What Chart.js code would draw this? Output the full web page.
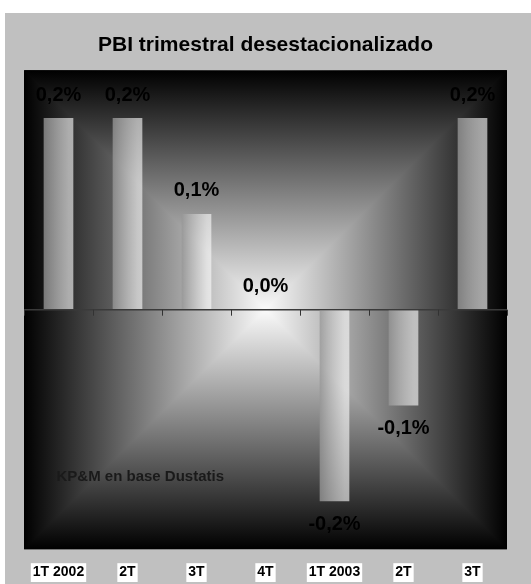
<!DOCTYPE html>
<html>
<head>
<meta charset="utf-8">
<script src="https://cdn.jsdelivr.net/npm/chart.js@4/dist/chart.umd.min.js"></script>
<style>
  html, body { margin: 0; background: #fff; overflow: hidden; }
  #panel { position: absolute; left: 5px; top: 13px; width: 526px; height: 588px; background: #c0c0c0; }
</style>
</head>
<body>
<div id="panel"><canvas id="grafico"></canvas></div>
<script>
const trimestres = ["1T 2002", "2T", "3T", "4T", "1T 2003", "2T", "3T"];
const variacion = [0.2, 0.2, 0.1, 0.0, -0.2, -0.1, 0.2];
const ejeMin = -0.25;
const ejeMax = 0.25;
const fuente = "KP&M en base Dustatis";

const ARIAL = "'Liberation Sans', Arial, sans-serif";
const anchoBarra = 0.43;

// fondo degradado "desde el centro": negro en los bordes, blanco en el medio
const fondo = {
    id: "fondo",
    beforeDraw(chart) {
        const { ctx, chartArea: a } = chart;
        const cx = (a.left + a.right) / 2;
        const cy = (a.top + a.bottom) / 2;
        ctx.save();
        // izquierda / derecha: rectangulo completo
        const gh = ctx.createLinearGradient(a.left, 0, a.right, 0);
        gh.addColorStop(0, "#000");
        gh.addColorStop(0.5, "#fafafa");
        gh.addColorStop(1, "#000");
        ctx.fillStyle = gh;
        ctx.fillRect(a.left, a.top, a.right - a.left, a.bottom - a.top);
        // arriba / abajo: triangulos encima
        [a.top, a.bottom].forEach(yb => {
            const g = ctx.createLinearGradient(0, yb, 0, cy);
            g.addColorStop(0, "#000");
            g.addColorStop(1, "#fafafa");
            ctx.fillStyle = g;
            ctx.beginPath();
            ctx.moveTo(a.left, yb);
            ctx.lineTo(a.right, yb);
            ctx.lineTo(cx, cy);
            ctx.closePath();
            ctx.fill();
        });
        ctx.restore();
    }
};

const etiquetas = {
    id: "etiquetas",
    afterDatasetsDraw(chart) {
        const { ctx } = chart;
        const xs = chart.scales.x;
        const ys = chart.scales.y;
        const y0 = ys.getPixelForValue(0);
        ctx.save();
        // marcas del eje en la linea de cero
        ctx.strokeStyle = "#333";
        ctx.lineWidth = 1;
        for (let i = 0; i <= trimestres.length; i++) {
            const x = Math.round(xs.getPixelForValue(i - 0.5)) + 0.5;
            ctx.beginPath();
            ctx.moveTo(x, y0);
            ctx.lineTo(x, y0 + 6);
            ctx.stroke();
        }
        ctx.font = "bold 20px " + ARIAL;
        ctx.fillStyle = "#000";
        ctx.textAlign = "center";
        ctx.textBaseline = "middle";
        chart.getDatasetMeta(0).data.forEach((bar, i) => {
            const v = variacion[i];
            const y = v < 0 ? bar.y + 23 : bar.y - 23;
            ctx.fillText(v.toFixed(1).replace(".", ",") + "%", bar.x, y);
        });
        // nota de fuente
        ctx.font = "bold 15px " + ARIAL;
        ctx.fillStyle = "#1a1a1a";
        ctx.textAlign = "left";
        ctx.fillText(fuente, xs.getPixelForValue(0) - 2, ys.getPixelForValue(-0.174));
        ctx.restore();
    }
};

// barras semitransparentes con degradado horizontal
function colorBarra(c) {
    const chart = c.chart;
    const xs = chart.scales.x;
    if (!xs || !xs.width) return "rgba(200,200,200,0.7)";
    const w = xs.width / trimestres.length * anchoBarra;
    const x = xs.getPixelForValue(c.dataIndex);
    const g = chart.ctx.createLinearGradient(x - w / 2, 0, x + w / 2, 0);
    g.addColorStop(0, "rgba(150,150,150,0.77)");
    g.addColorStop(0.85, "rgba(245,245,245,0.64)");
    g.addColorStop(1, "rgba(252,252,252,0.62)");
    return g;
}

new Chart(document.getElementById("grafico"), {
    type: "bar",
    data: {
        labels: trimestres,
        datasets: [{
            data: variacion,
            backgroundColor: colorBarra,
            borderWidth: 0,
            barPercentage: anchoBarra,
            categoryPercentage: 1
        }]
    },
    options: {
        responsive: true,
        maintainAspectRatio: false,
        animation: false,
        layout: { padding: { left: 19, right: 24, top: 0, bottom: 5 } },
        plugins: {
            legend: { display: false },
            tooltip: { enabled: false },
            title: {
                display: true,
                text: "PBI trimestral desestacionalizado",
                color: "#000",
                font: { family: ARIAL, size: 21, weight: "bold" },
                padding: { top: 20, bottom: 12 }
            }
        },
        scales: {
            x: {
                grid: { display: false, drawTicks: false },
                border: { display: false },
                ticks: {
                    color: "#000",
                    padding: 15,
                    font: { family: ARIAL, size: 14, weight: "bold" },
                    showLabelBackdrop: true,
                    backdropColor: "#fff",
                    backdropPadding: { x: 2, y: 1 },
                    maxRotation: 0,
                    autoSkip: false
                }
            },
            y: {
                min: ejeMin,
                max: ejeMax,
                border: { display: false },
                grid: {
                    drawTicks: false,
                    lineWidth: 1.5,
                    color: c => c.tick && c.tick.value === 0 ? "#3a3a3a" : "rgba(0,0,0,0)"
                },
                ticks: { display: false, stepSize: 0.05 }
            }
        }
    },
    plugins: [fondo, etiquetas]
});
</script>
</body>
</html>
